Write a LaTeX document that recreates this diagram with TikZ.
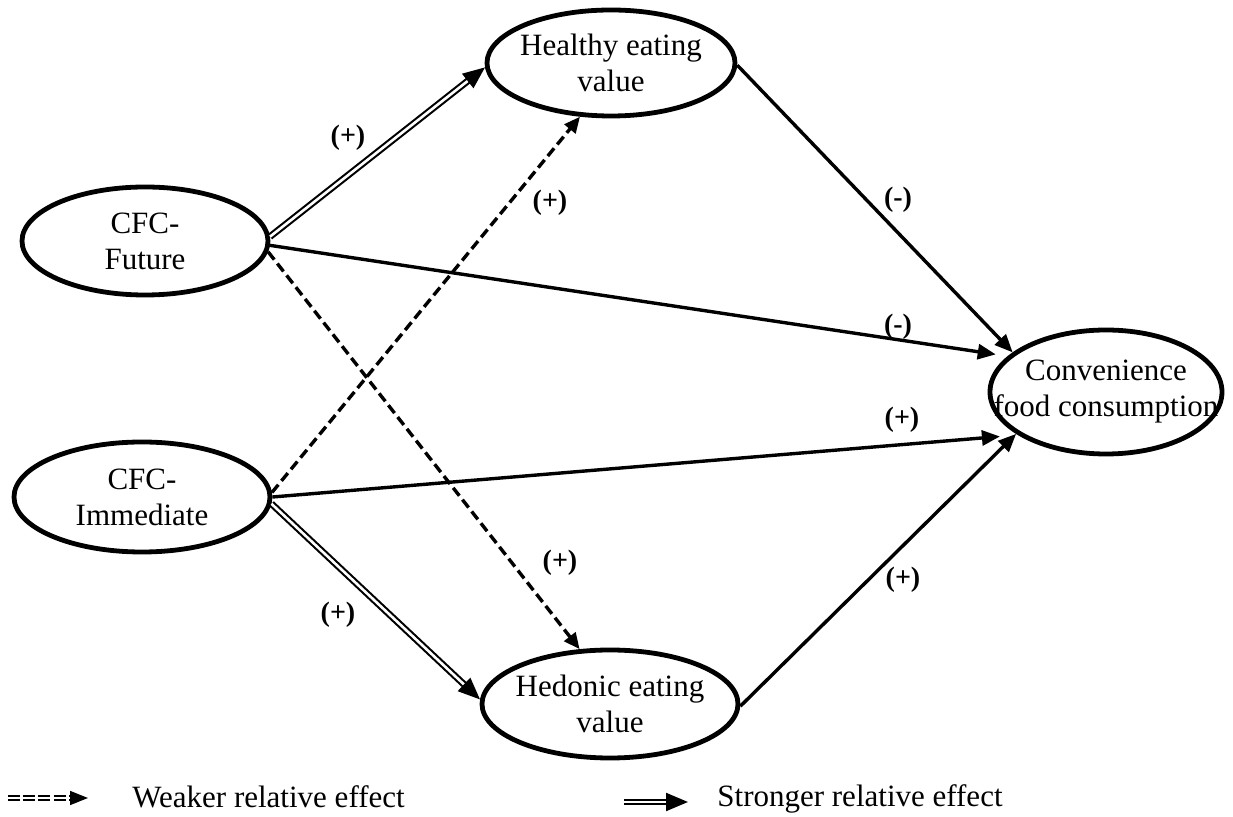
\documentclass[tikz,border=0pt]{standalone}
\usepackage{fontspec}
\setmainfont{Liberation Serif}
\usetikzlibrary{arrows.meta,shapes.geometric}
\begin{document}
\begin{tikzpicture}[x=0.5pt,y=-0.5pt,
  latent/.style={ellipse, draw, line width=2.4pt, inner xsep=-16pt, inner ysep=0pt, align=center, font=\fontsize{15.5}{18}\selectfont},
  solidarrow/.style={line width=1.7pt, -{Triangle[length=9pt,width=7.5pt]}},
  dasharrow/.style={line width=1.7pt, dash pattern=on 5pt off 2.5pt, -{Triangle[length=8pt,width=7pt]}},
  doublearrow/.style={double, line width=1.05pt, double distance=1.3pt, -{Triangle[length=11pt,width=9pt]}},
  legdash/.style={double, line width=0.8pt, double distance=1.3pt, dash pattern=on 6pt off 1.6pt, -{Triangle[length=9pt,width=7pt]}},
  sign/.style={font=\fontsize{14}{16}\selectfont\bfseries, inner sep=0pt},
  legtext/.style={font=\fontsize{15.5}{18}\selectfont, inner sep=0pt},
]
\useasboundingbox (0,0) rectangle (1233,817);

\node[latent, minimum width=124pt, minimum height=53pt] (hev) at (611,63) {Healthy eating\\value};
\node[latent, minimum width=123pt, minimum height=54pt] (cff) at (145,241) {CFC-\\Future};
\node[latent, minimum width=128pt, minimum height=55pt] (cfi) at (142,497) {CFC-\\Immediate};
\node[latent, minimum width=128pt, minimum height=54pt] (hed) at (610,704) {Hedonic eating\\value};
\node[latent, minimum width=116pt, minimum height=62pt] (conv) at (1106,392) {Convenience\\food consumption};

\draw[doublearrow] (cff.2) -- (hev.182);
\draw[solidarrow, shorten >=6pt] (cff.-2) -- (conv.160);
\draw[dasharrow] (cff.-5.5) -- (hed.119);
\draw[dasharrow] (cfi.2.5) -- (hev.-120);
\draw[solidarrow, shorten >=9pt] (cfi.-0.5) -- (conv.206);
\draw[doublearrow] (cfi.-3.5) -- (hed.178);
\draw[solidarrow] (hev.-1) -- (conv.157);
\draw[solidarrow] (hed.-1.3) -- (conv.205);

\node[sign] (s1) at (348,138) {(+)};
\node[sign] (s2) at (550,203) {(+)};
\node[sign] (s3) at (898,200) {(-)};
\node[sign] (s4) at (898,327) {(-)};
\node[sign] (s5) at (902,420) {(+)};
\node[sign] (s6) at (560,563) {(+)};
\node[sign] (s7) at (903,580) {(+)};
\node[sign] (s8) at (338,615) {(+)};

\coordinate (wkA) at (8,798);
\coordinate (wkB) at (88,798);
\draw[legdash] (wkA) -- (wkB);
\node[legtext, anchor=base west] (wkT) at (132,808) {Weaker relative effect};

\coordinate (stA) at (624,802);
\coordinate (stB) at (688,802);
\draw[doublearrow] (stA) -- (stB);
\node[legtext, anchor=base west] (stT) at (717,807) {Stronger relative effect};
\end{tikzpicture}
\end{document}
